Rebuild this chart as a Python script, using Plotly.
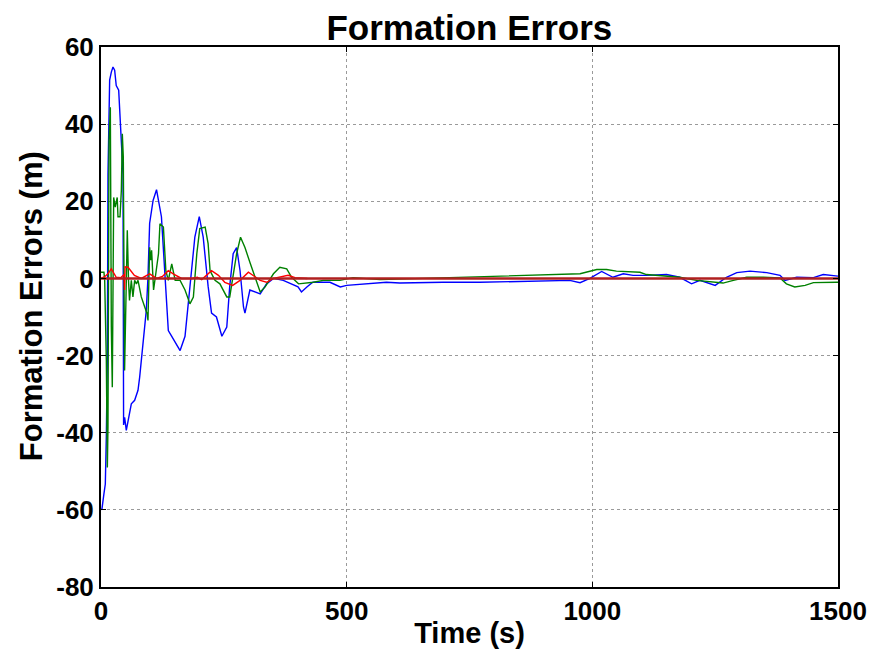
import plotly.graph_objects as go

# ---------------- data ----------------
blue_t = [0, 2, 6, 8.8, 10.8, 12.9, 14.2, 17.6, 21, 24.4, 27.8, 31, 36, 38, 41.4, 44.8, 46, 48.1, 51.5, 55,
          61.7, 68.5, 75.3, 78.7, 82, 85.5, 88.9, 92.2, 95.6, 99, 106, 113, 123, 130, 137, 144, 161, 171,
          181, 191, 200, 208, 218, 225, 235, 246, 256, 262, 269, 276, 283, 290, 293, 303, 324, 337, 351,
          371, 401, 408, 419, 431, 466, 487, 500, 540, 581, 608, 635, 696, 771, 879, 954, 975, 995, 1019,
          1042, 1063, 1083, 1110, 1151, 1178, 1202, 1219, 1250, 1273, 1294, 1321, 1355, 1382, 1392, 1416,
          1450, 1470, 1497, 1500]
blue_v = [-60, -59.7, -55.8, -53.3, -41, -21, 27, 51.4, 53.5, 54.8, 54, 50, 48.8, 44.4, 37.5, 27, -38, -36,
          -39.4, -36.8, -32.5, -31.6, -29, -25.6, -21.3, -17, -10.9, -8.3, 0.3, 14.3, 20.2, 23, 16, 2, -13.5,
          -15, -18.7, -15, -2, 10.7, 16, 10.7, -2, -9, -10, -15, -12.6, -2, 6.4, 8, 2, -7.4, -9, -3, -4, -1.4,
          0, -0.5, -2.2, -3.5, -2.2, -1, -1, -2.2, -1.8, -1.4, -1, -1.2, -1.1, -1, -1, -0.7, -0.5, -1.1, 0,
          1.8, 0.3, 1.2, 0.8, 0.8, 1, 0.3, -1.4, -0.5, -1.8, 0.3, 1.5, 1.9, 1.5, 0.8, -0.5, 0.3, 0.2, 1,
          0.6, 0.6]

green_t = [0, 6, 7.5, 10.8, 12.9, 14.2, 16.3, 19, 21, 23, 25.8, 29, 33, 34.6, 38.7, 41.4, 43.4, 45.4, 48,
           53.5, 56, 58, 61.7, 65, 68.5, 72, 75.3, 82, 89, 94, 95.6, 99, 101, 103, 107, 117, 120, 127, 132,
           137, 144, 151, 161, 171, 181, 188, 195, 201, 212, 218, 222, 232, 242, 256, 262, 269, 276, 284,
           293, 303, 313, 324, 334, 351, 364, 378, 388, 402, 432, 452, 486, 513, 568, 818, 900, 907, 975,
           1009, 1029, 1049, 1097, 1110, 1178, 1212, 1253, 1266, 1287, 1314, 1348, 1382, 1395, 1412, 1433,
           1450, 1497, 1500]
green_v = [1.6, 1.6, -0.5, -21, -49, -38.5, 35.8, 44.4, -12.6, -28.2, 21, 18.5, 21, 16, 16, 22.8, 37.5,
           31.5, -23.9, 12.5, -0.5, -5.7, -0.5, -4.8, -0.5, -1.4, -0.5, -4.8, -7.4, -9.2, -10.9, 8.1, 4.7,
           7.3, -3, 6.4, 14.2, 13.3, 2, -0.5, 3.8, -0.5, -0.5, -3, -6.6, -4.8, 6.4, 12.9, 13.3, 9, 2, -0.5,
           -1.4, -4.8, -4.8, 0.3, 6.4, 10.7, 8, 4.2, 0.3, -3.5, -2.2, 1.2, 2.9, 2.5, 0.3, -1.4, -1, -0.5,
           -0.5, 0.2, -0.3, 0.6, 0.8, 1, 1.2, 2.3, 2.3, 1.9, 1.6, 1, 0.3, -0.5, -1, -1.2, -0.5, 0.3, 0.3,
           0.1, -1.4, -2.2, -1.8, -1.1, -1, -1]

red_t = [0, 8, 14, 21, 31, 40, 47, 48, 49, 55, 68, 82, 99, 113, 125, 137, 147, 164, 185, 196, 205, 225,
         239, 252, 268, 283, 300, 310, 324, 337, 351, 381, 395, 420]
red_v = [0, 0.5, 1.2, 2.5, 0.3, 0.2, 1, -3, 3, 2.9, 0.8, 0, 1.2, 0, 0.5, 2, 1.2, 0, 0, 0.3, -0.3, 2, 0.8,
         -1, -1.8, -0.5, 1.6, 0.8, -0.5, -1, 0, 0.8, 0.2, 0]

ref_t = [0, 1500]
ref_v = [0, 0]

x_ticks = [0, 500, 1000, 1500]
y_ticks = [-80, -60, -40, -20, 0, 20, 40, 60]

# ---------------- figure ----------------
fig = go.Figure()
fig.add_trace(go.Scatter(x=blue_t, y=blue_v, mode="lines", line=dict(color="#0000FF", width=1.4)))
fig.add_trace(go.Scatter(x=green_t, y=green_v, mode="lines", line=dict(color="#008000", width=1.4)))
fig.add_trace(go.Scatter(x=red_t, y=red_v, mode="lines", line=dict(color="#FF0000", width=1.4)))
fig.add_trace(go.Scatter(x=ref_t, y=ref_v, mode="lines", line=dict(color="#B02020", width=2.6)))

font_family = "Liberation Sans, Arial, sans-serif"
axis_common = dict(
    showline=True, linecolor="black", linewidth=2, mirror="ticks",
    ticks="inside", ticklen=5, tickcolor="black", tickwidth=1,
    showgrid=True, gridcolor="#9a9a9a", gridwidth=1, griddash="dot",
    zeroline=False, automargin=False,
    tickfont=dict(family=font_family, size=26, color="black", weight="bold"),
)

fig.update_layout(
    width=874, height=649,
    margin=dict(l=101, r=36, t=47, b=62),
    paper_bgcolor="white", plot_bgcolor="white",
    showlegend=False,
    title=dict(text="<b>Formation Errors</b>", x=0.537, xanchor="center", y=0.958, yanchor="middle",
               font=dict(family=font_family, size=35, color="black")),
    xaxis=dict(range=[0, 1500], tickvals=x_ticks, ticktext=[str(v) for v in x_ticks],
               title=dict(text="<b>Time (s)</b>", standoff=0,
                          font=dict(family=font_family, size=29, color="black")),
               **axis_common),
    yaxis=dict(range=[-80, 60], tickvals=y_ticks, ticktext=[str(v) for v in y_ticks],
               **axis_common),
    annotations=[dict(text="<b>Formation Errors (m)</b>", textangle=-90,
                      xref="paper", yref="paper", x=0, y=0.52, xanchor="center", yanchor="middle",
                      xshift=-70, showarrow=False,
                      font=dict(family=font_family, size=31, color="black"))],
)

fig.write_html("out.html")
